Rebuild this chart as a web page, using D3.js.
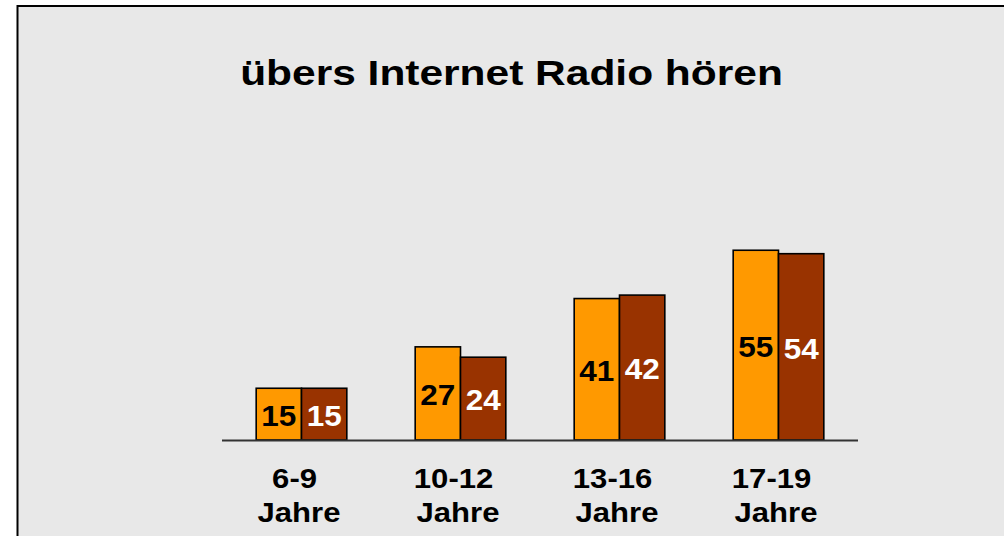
<!DOCTYPE html>
<html>
<head>
<meta charset="utf-8">
<script src="https://cdn.jsdelivr.net/npm/d3@7"></script>
<style>
  html, body { margin: 0; padding: 0; background: #ffffff; }
  svg { display: block; font-family: "Liberation Sans", Arial, sans-serif; }
</style>
</head>
<body>
<svg id="chart" width="1004" height="536"></svg>
<script>
// Age groups and the two series (percent)
const categories = ["6-9 Jahre", "10-12 Jahre", "13-16 Jahre", "17-19 Jahre"];
const seriesNames = ["A", "B"];
const seriesA = [15, 27, 41, 55];
const seriesB = [15, 24, 42, 54];
const seriesColors = ["#FF9900", "#993300"];
const labelColors = ["#000000", "#ffffff"];
const title = "übers Internet Radio hören";

const svg = d3.select("#chart");
const W = 1004, H = 536;

// panel background with frame
svg.append("rect")
  .attr("x", 17.5).attr("y", 6)
  .attr("width", W).attr("height", H)
  .attr("fill", "#E8E8E8")
  .attr("stroke", "#000").attr("stroke-width", 2);

// title
svg.append("text")
  .attr("transform", "translate(511.5,85) scale(1.18,1)")
  .attr("text-anchor", "middle")
  .attr("font-weight", "bold")
  .attr("font-size", 36)
  .attr("fill", "#000")
  .text(title);

const x0 = d3.scaleBand().domain(categories).range([222, 858])
  .paddingInner(0.43).paddingOuter(0.215);
const x1 = d3.scaleBand().domain(seriesNames).range([0, x0.bandwidth()]);
const y = d3.scaleLinear().domain([0, 60]).range([440, 233]);

const rows = categories.map((c, i) => ({ cat: c, vals: [seriesA[i], seriesB[i]] }));

const groups = svg.append("g").selectAll("g").data(rows).join("g")
  .attr("transform", d => `translate(${x0(d.cat)},0)`);

const cells = groups.selectAll("g").data(d => d.vals.map((v, j) => ({ v, j }))).join("g");

cells.append("rect")
  .attr("x", d => x1(seriesNames[d.j]))
  .attr("y", d => y(d.v))
  .attr("width", x1.bandwidth())
  .attr("height", d => y(0) - y(d.v))
  .attr("fill", d => seriesColors[d.j])
  .attr("stroke", "#000").attr("stroke-width", 1.6);

// value labels centred in each bar
cells.append("text")
  .attr("transform", d => `translate(${x1(seriesNames[d.j]) + x1.bandwidth() / 2},${(y(d.v) + y(0)) / 2 + 1}) scale(1.05,1)`)
  .attr("dy", "0.36em")
  .attr("text-anchor", "middle")
  .attr("font-weight", "bold")
  .attr("font-size", 30)
  .attr("fill", d => labelColors[d.j])
  .text(d => d.v);

// baseline
svg.append("line")
  .attr("x1", 222).attr("x2", 858)
  .attr("y1", y(0) + 0.5).attr("y2", y(0) + 0.5)
  .attr("stroke", "#333").attr("stroke-width", 2);

// category labels, two lines each
const catLabels = svg.append("g").selectAll("text").data(categories).join("text")
  .attr("transform", d => `translate(${x0(d) + x0.bandwidth() / 2 - 2.5},488) scale(1.11,1)`)
  .attr("text-anchor", "middle")
  .attr("font-weight", "bold")
  .attr("font-size", 28)
  .attr("fill", "#000");
catLabels.each(function(d) {
  const parts = d.split(" ");
  const t = d3.select(this);
  parts.forEach((p, k) => {
    t.append("tspan")
      .attr("x", k === 0 ? -4 : 0)
      .attr("y", k * 33.7)
      .text(p);
  });
});
</script>
</body>
</html>
